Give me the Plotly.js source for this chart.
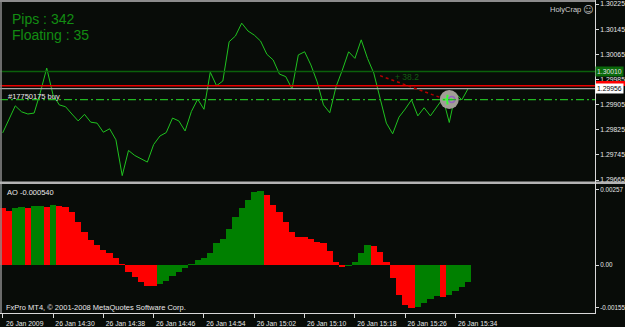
<!DOCTYPE html>
<html><head><meta charset="utf-8">
<script src="https://cdn.plot.ly/plotly-3.0.1.min.js"></script>
<style>html,body{margin:0;padding:0;background:#080c08;overflow:hidden}</style>
</head><body><div id="chart" style="width:625px;height:327px"></div>
<script>
// ---- data (EURUSD M1, 26 Jan 2009, one value per minute from 14:22) ----
const startMinute = Date.UTC(2009, 0, 26, 14, 22);
const closePrices = [
  1.29815, 1.29859, 1.29901, 1.29882, 1.29875, 1.29878, 1.29945, 1.30021, 1.29936, 1.29904,
  1.29898, 1.29875, 1.29853, 1.29874, 1.29849, 1.29846, 1.29817, 1.29828, 1.29793, 1.29679,
  1.29759, 1.29743, 1.29732, 1.29722, 1.29778, 1.29805, 1.29816, 1.29862, 1.29853, 1.29821,
  1.29883, 1.29922, 1.29890, 1.30008, 1.29965, 1.29980, 1.30105, 1.30123, 1.30164, 1.30139,
  1.30126, 1.30107, 1.30065, 1.30047, 1.30002, 1.29994, 1.29955, 1.30063, 1.30073, 1.30031,
  1.29977, 1.29904, 1.29879, 1.29962, 1.30015, 1.30073, 1.30052, 1.30111, 1.30052, 1.30005,
  1.29925, 1.29846, 1.29812, 1.29865, 1.29891, 1.29920, 1.29869, 1.29895, 1.29869, 1.29898,
  1.29925, 1.29848, 1.29941, 1.29920, 1.29956
];
const aoValues = [
  0.00185, 0.00175, 0.00183, 0.00186, 0.00185, 0.00190, 0.00191, 0.00187, 0.00193, 0.00191,
  0.00187, 0.00170, 0.00137, 0.00105, 0.00080, 0.00065, 0.00048, 0.00038, 0.00023, 0.00003,
  -0.00023, -0.00038, -0.00054, -0.00066, -0.00068, -0.00060, -0.00051, -0.00036, -0.00021, -0.00010,
  0.00003, 0.00016, 0.00021, 0.00038, 0.00070, 0.00084, 0.00115, 0.00153, 0.00184, 0.00210,
  0.00236, 0.00238, 0.00225, 0.00193, 0.00170, 0.00139, 0.00107, 0.00091, 0.00089, 0.00083,
  0.00075, 0.00071, 0.00046, 0.00011, -0.00008, -0.00003, 0.00011, 0.00040, 0.00065, 0.00061,
  0.00042, 0.00009, -0.00042, -0.00095, -0.00128, -0.00137, -0.00134, -0.00122, -0.00110, -0.00099,
  -0.00102, -0.00097, -0.00084, -0.00071, -0.00054
];
const timeTickValues = ['2009-01-26 14:22','2009-01-26 14:30','2009-01-26 14:38','2009-01-26 14:46','2009-01-26 14:54',
  '2009-01-26 15:02','2009-01-26 15:10','2009-01-26 15:18','2009-01-26 15:26','2009-01-26 15:34'];
const timeTickLabels = ['26 Jan 2009','26 Jan 14:30','26 Jan 14:38','26 Jan 14:46','26 Jan 14:54',
  '26 Jan 15:02','26 Jan 15:10','26 Jan 15:18','26 Jan 15:26','26 Jan 15:34'];
const priceTickValues = [1.30225, 1.30145, 1.30065, 1.29985, 1.29905, 1.29825, 1.29745, 1.29665];
const priceTickLabels = ['1.30225','1.30145','1.30065','1.29985','1.29905','1.29825','1.29745','1.29665'];
const aoTickValues = [0.002436, 0, -0.001374];
const aoTickLabels = ['0.00257', '0.00', '-0.00155'];
const levelTakeProfit = 1.30010;
const levelAsk = 1.29965;
const levelBid = 1.29956;
const levelOrder = 1.29921;
const tradeLineTimes = ['2009-01-26 15:22:00', '2009-01-26 15:31:30'];
const tradeLinePrices = [1.29997, 1.29928];
const orderTime = '2009-01-26 15:33:00';

// ---- helpers ----
function fmt(ms){ return new Date(ms).toISOString().replace('T',' ').replace('Z',''); }
const times = closePrices.map((_, i) => fmt(startMinute + i * 60000));
const aoColors = aoValues.map((v, i) => (i > 0 && v > aoValues[i-1]) ? '#008000' : '#ff0000');
const H = 327, PW = 595;
const px = x => x / PW;
const py = y => (H - y) / H;
const FONT = 'Liberation Sans, Arial, sans-serif';

const traces = [
  { type:'scatter', mode:'lines', x: times, y: closePrices, xaxis:'x', yaxis:'y',
    line:{color:'#1fc21f', width:1}, hoverinfo:'skip' },
  { type:'bar', x: times, y: aoValues, xaxis:'x', yaxis:'y2',
    marker:{color: aoColors, line:{width:0}}, hoverinfo:'skip' },
  { type:'scatter', mode:'markers', x:[orderTime], y:[levelOrder], xaxis:'x', yaxis:'y',
    marker:{size:19, color:'#a29d97', line:{width:0}}, hoverinfo:'skip' },
  { type:'scatter', mode:'markers', x:[fmt(Date.parse(orderTime.replace(' ','T')+'Z') - 18000)], y:[levelOrder], xaxis:'x', yaxis:'y',
    marker:{size:7, symbol:'cross-thin', line:{color:'#33ff33', width:2}}, hoverinfo:'skip' },
  { type:'scatter', mode:'markers', x:[fmt(Date.parse(orderTime.replace(' ','T')+'Z') + 24000)], y:[levelOrder], xaxis:'x', yaxis:'y',
    marker:{size:6, symbol:'circle-open', line:{color:'#ffffff', width:1.5}}, hoverinfo:'skip' }
];

const hline = (y, color, width, dash) => ({type:'line', xref:'paper', x0:0, x1:1, yref:'y', y0:y, y1:y,
  line:{color, width, dash: dash || 'solid'}});
const pline = (x0, y0, x1, y1, color, width) => ({type:'line', xref:'paper', yref:'paper',
  x0:px(x0), x1:px(x1), y0:py(y0), y1:py(y1), line:{color, width}});

const layout = {
  width:625, height:327,
  margin:{l:0, r:30, t:0, b:0},
  paper_bgcolor:'#080c08', plot_bgcolor:'#080c08',
  showlegend:false, bargap:0,
  font:{family:FONT, color:'#e6e6e6', size:7},
  xaxis:{type:'date', anchor:'y2', domain:[0,1],
    range:[fmt(startMinute - 0.43*60000), fmt(startMinute + 94.17*60000)],
    tickmode:'array', tickvals: timeTickValues, ticktext: timeTickLabels,
    ticks:'outside', ticklen:4, tickwidth:1, tickcolor:'#d8d8d8',
    tickfont:{size:6.8, color:'#e6e6e6', family:FONT}, ticklabelshift:22,
    showgrid:false, zeroline:false, showline:false},
  yaxis:{domain:[py(181), py(2)], range:[1.2966184, 1.3023136], side:'right', anchor:'x',
    tickmode:'array', tickvals: priceTickValues, ticktext: priceTickLabels,
    ticks:'outside', ticklen:3, tickcolor:'#d8d8d8', tickfont:{size:6.8, color:'#e6e6e6', family:FONT},
    showgrid:false, zeroline:false, showline:false},
  yaxis2:{domain:[py(313), py(184)], range:[-0.001545, 0.002607], side:'right', anchor:'x',
    tickmode:'array', tickvals: aoTickValues, ticktext: aoTickLabels,
    ticks:'outside', ticklen:3, tickcolor:'#d8d8d8', tickfont:{size:6.3, color:'#e6e6e6', family:FONT},
    showgrid:false, zeroline:false, showline:false},
  shapes:[
    hline(levelTakeProfit, '#0b600b', 1.5),
    hline(levelAsk, '#e80000', 1.5),
    hline(levelBid, '#a4a4a4', 1.2),
    hline(levelOrder, '#22b822', 1.2, '8px,3px,2px,3px'),
    {type:'line', xref:'x', yref:'y', x0:tradeLineTimes[0], x1:tradeLineTimes[1], y0:tradeLinePrices[0], y1:tradeLinePrices[1],
      line:{color:'#b40000', width:1.5, dash:'dot'}},
    // ask price box (its label is hidden behind the bid box, as in MT4)
    {type:'rect', xref:'paper', yref:'paper', x0:px(596), x1:px(625), y0:py(86), y1:py(81),
      fillcolor:'#ff0000', line:{width:0}},
    pline(0, 1, 595, 1, '#8c8c8c', 2),
    pline(1, 0, 1, 313, '#8c8c8c', 1.5),
    pline(0, 182.8, 625, 182.8, '#b4b4b4', 2.5),
    pline(595.5, 0, 595.5, 313.5, '#d8d8d8', 1),
    pline(0, 313.5, 596, 313.5, '#d8d8d8', 1)
  ],
  annotations:[
    {xref:'paper', yref:'paper', x:px(10), y:py(19), xanchor:'left', yanchor:'middle', showarrow:false,
      text:'Pips : 342', font:{family:FONT, size:14, color:'#128c12'}},
    {xref:'paper', yref:'paper', x:px(10), y:py(35), xanchor:'left', yanchor:'middle', showarrow:false,
      text:'Floating : 35', font:{family:FONT, size:14, color:'#128c12'}},
    {xref:'paper', yref:'paper', x:px(6), y:py(96), xanchor:'left', yanchor:'middle', showarrow:false,
      text:'#17750175 buy', font:{family:FONT, size:7.5, color:'#e8e8e8'}},
    {xref:'paper', yref:'paper', x:px(548), y:py(9.5), xanchor:'left', yanchor:'middle', showarrow:false,
      text:'HolyCrap', font:{family:FONT, size:7.5, color:'#d0d0d0'}},
    {xref:'paper', yref:'paper', x:px(587.5), y:py(9.5), xanchor:'center', yanchor:'middle', showarrow:false,
      text:'☺', font:{family:'DejaVu Sans', size:10, color:'#bdbdbd'}},
    {xref:'paper', yref:'paper', x:px(393), y:py(77), xanchor:'left', yanchor:'middle', showarrow:false,
      text:'+ 38.2', font:{family:FONT, size:8.5, color:'#105e10'}},
    {xref:'paper', yref:'paper', x:px(5), y:py(192), xanchor:'left', yanchor:'middle', showarrow:false,
      text:'AO -0.000540', font:{family:FONT, size:7.5, color:'#e8e8e8'}},
    {xref:'paper', yref:'paper', x:px(4), y:py(307), xanchor:'left', yanchor:'middle', showarrow:false,
      text:'FxPro MT4, © 2001-2008 MetaQuotes Software Corp.', font:{family:FONT, size:7.5, color:'#e8e8e8'}},
    {xref:'paper', yref:'y', x:1, y:levelTakeProfit, xanchor:'left', yanchor:'middle', showarrow:false,
      text:'1.30010', bgcolor:'#0a6a0a', borderpad:1, font:{family:FONT, size:6.8, color:'#e0e0e0'}},
    {xref:'paper', yref:'y', x:1, y:levelBid, xanchor:'left', yanchor:'middle', showarrow:false,
      text:'1.29956', bgcolor:'#ffffff', borderpad:1, font:{family:FONT, size:6.8, color:'#000000'}}
  ]
};

Plotly.newPlot('chart', traces, layout, {staticPlot:true, displayModeBar:false});
</script>
</body></html>
